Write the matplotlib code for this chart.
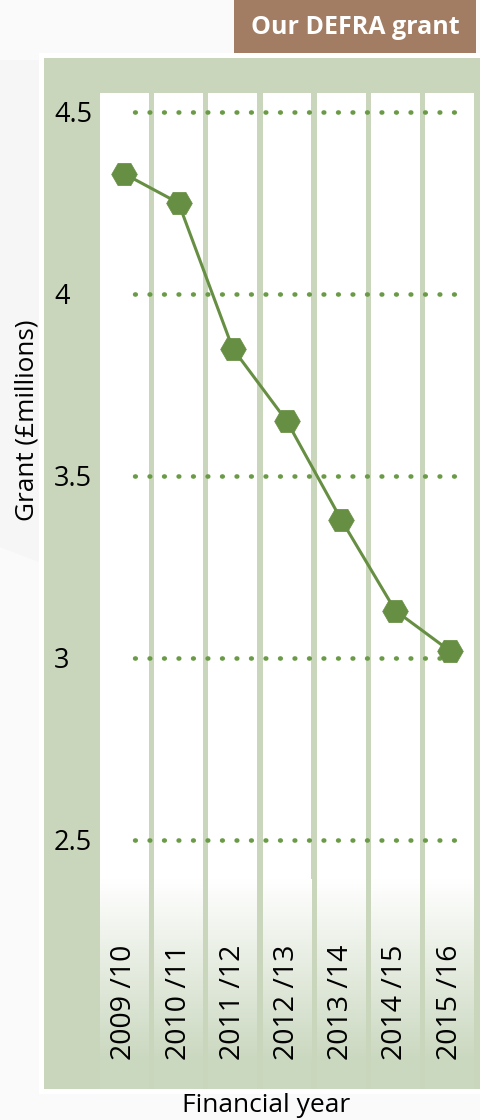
import matplotlib
matplotlib.use("Agg")
import matplotlib.pyplot as plt
import numpy as np
from matplotlib.colors import LinearSegmentedColormap
from matplotlib.patches import Rectangle, Polygon

# data
years = ["2009 /10", "2010 /11", "2011 /12", "2012 /13", "2013 /14", "2014 /15", "2015 /16"]
grant = [4.33, 4.25, 3.85, 3.65, 3.38, 3.13, 3.02]
y_ticks = [2.5, 3, 3.5, 4, 4.5]
y_tick_labels = ["2.5", "3", "3.5", "4", "4.5"]

title = "Our DEFRA grant"
y_label = "Grant (£millions)"
x_label = "Financial year"

panel_green = "#c9d6bc"
line_green = "#678f43"
dot_green = "#6a9a46"
brown = "#a27d63"

plt.rcParams["font.family"] = ["Open Sans", "DejaVu Sans"]

W, H = 480, 1120
fig = plt.figure(figsize=(W / 100, H / 100), dpi=100)
fig.patch.set_facecolor("#fafafa")


def fx(px):
    return px / W


def fy(py):
    return 1 - py / H


# faint shape on the left and the panel with its white border
fig.patches.append(Polygon([(fx(0), fy(60)), (fx(39), fy(60)), (fx(39), fy(562)), (fx(0), fy(547))],
                           closed=True, transform=fig.transFigure, facecolor="#f6f6f6",
                           edgecolor="none", zorder=-3))
fig.patches.append(Rectangle((fx(39), fy(1094)), fx(480 - 39), (1094 - 53) / H,
                             transform=fig.transFigure, facecolor="white", edgecolor="none", zorder=-2))
fig.patches.append(Rectangle((fx(44), fy(1089)), fx(480 - 44), (1089 - 58) / H,
                             transform=fig.transFigure, facecolor=panel_green, edgecolor="none", zorder=-1))

# title box
fig.patches.append(Rectangle((fx(234), fy(53)), fx(476 - 234), 53 / H,
                             transform=fig.transFigure, facecolor=brown, edgecolor="none", zorder=-1))
fig.text(fx(355), fy(27), title, color="white", fontsize=18, fontweight="bold",
         ha="center", va="center")

# axes
ax_top, ax_bot = 93, 1089
ax = fig.add_axes([fx(100), fy(ax_bot), fx(374), (ax_bot - ax_top) / H])
ax.set_facecolor(panel_green)
for s in ax.spines.values():
    s.set_visible(False)

x = np.arange(len(years))
ppu = 364.0  # pixels per unit on y
ymax = 4.5 + (112 - ax_top) / ppu
ymin = ymax - (ax_bot - ax_top) / ppu

col_w = 0.904
fade_top = 4.5 - (883 - 112) / ppu
fade_bot = 4.5 - (1060 - 112) / ppu
ax.bar(x, ymax - fade_top, bottom=fade_top, width=col_w, color="white", zorder=1)
cmap = LinearSegmentedColormap.from_list("fade", ["white", "#cbd8c0"])
grad = np.linspace(0, 1, 256).reshape(-1, 1)
for xi in x:
    ax.imshow(grad, cmap=cmap, aspect="auto", origin="upper", interpolation="bilinear",
              extent=(xi - col_w / 2, xi + col_w / 2, fade_bot, fade_top + 0.01), zorder=1.5)
    ax.add_patch(Rectangle((xi - col_w / 2, ymin), col_w, fade_bot - ymin + 0.005,
                           facecolor="#cbd8c0", edgecolor="none", zorder=1))
ax.set_xlim(-0.45, 6.45)
ax.set_ylim(ymin, ymax)

# dotted grid (pattern starts half a gap in so the first dot shows)
lw_dot = 3.3
on = 0.15
gap = 10.44 / lw_dot - on
x0 = (127.0 - 124.4) / 54.2
x1 = (456 - 124.4) / 54.2
ax.hlines(y_ticks, x0, x1, colors=dot_green, linewidth=lw_dot,
          linestyles=(gap / 2, (on, gap)), capstyle="round", zorder=2)

# line
ax.plot(x, grant, color=line_green, linewidth=2.2, marker="H", markersize=18.5,
        markerfacecolor=line_green, markeredgecolor=line_green, markeredgewidth=0.5,
        zorder=3, clip_on=False)

# y ticks
ax.set_yticks(y_ticks)
ax.set_yticklabels(y_tick_labels, fontsize=19.5, ha="left")
ax.tick_params(axis="y", length=0, pad=(100 - 54) / 1.389)
ax.set_xticks([])

# year labels inside the columns
yb = (ax_bot - 1060) / (ax_bot - ax_top)
for xi, lab in zip(x, years):
    ax.text(xi, yb, lab, rotation=90, ha="center", va="bottom", fontsize=20.5,
            transform=ax.get_xaxis_transform(), zorder=4)

fig.text(fx(27), fy(420), y_label, rotation=90, ha="center", va="center", fontsize=18.8)
fig.text(fx(266), fy(1106), x_label, ha="center", va="center", fontsize=19)

fig.savefig("out.png", dpi=100, facecolor=fig.get_facecolor())
